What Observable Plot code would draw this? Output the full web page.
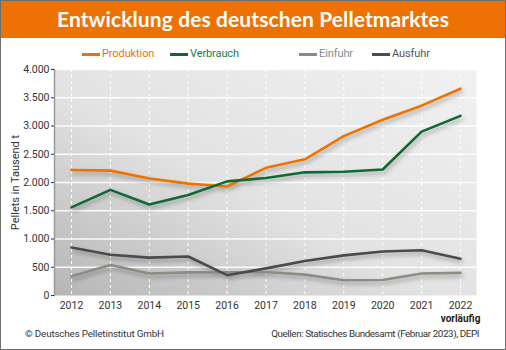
<!DOCTYPE html>
<html><head><meta charset="utf-8">
<script src="https://cdn.jsdelivr.net/npm/d3@7"></script>
<script src="https://cdn.jsdelivr.net/npm/@observablehq/plot@0.6"></script>
<style>
html,body{margin:0;padding:0;background:#fff;}
#wrap{position:relative;width:506px;height:350px;overflow:hidden;font-family:Roboto,sans-serif;}
#border{position:absolute;left:0;top:0;width:506px;height:350px;box-sizing:border-box;border:1px solid #6e6e6e;pointer-events:none;z-index:5;}
#title{position:absolute;left:0;top:0;width:506px;height:38px;background:#EE7203;color:#fff;font-family:Lato,sans-serif;font-weight:bold;font-size:21px;line-height:38px;text-align:center;letter-spacing:0.1px;}
.leg{position:absolute;top:46px;font-size:11px;line-height:16px;letter-spacing:-0.1px;}
.leg span.sw{position:absolute;top:7px;height:3px;width:18px;left:-20px;}
#chart{position:absolute;left:0;top:60px;}
.foot{position:absolute;top:327px;font-size:9.8px;color:#333;line-height:13px;letter-spacing:-0.15px;}
</style></head>
<body><div id="wrap">
<div id="title">Entwicklung des deutschen Pelletmarktes</div>
<div id="legend"></div>
<div id="chart"></div>
<div class="foot" style="left:25px;">© Deutsches Pelletinstitut GmbH</div>
<div class="foot" style="right:27px;text-align:right;letter-spacing:-0.4px;">Quellen: Statisches Bundesamt (Februar 2023), DEPI</div>
<div id="border"></div>
</div>
<script>
const years = [2012,2013,2014,2015,2016,2017,2018,2019,2020,2021,2022];
const produktion = [2220,2210,2070,1980,1930,2260,2410,2820,3110,3360,3660];
const verbrauch  = [1560,1870,1610,1780,2020,2080,2180,2190,2230,2900,3180];
const einfuhr    = [340,540,390,410,410,415,370,270,275,390,400];
const ausfuhr    = [850,720,670,690,360,480,610,710,780,800,650];
const seriesNames = ["Produktion","Verbrauch","Einfuhr","Ausfuhr"];
const seriesColors = ["#EE7203","#0B6B32","#8E8B82","#4B4B4D"];
const legendTextColors = ["#EE7203","#1E7A3E","#8a8a8a","#555"];
const yTicks = [0,500,1000,1500,2000,2500,3000,3500,4000];

const seriesValues = [produktion, verbrauch, einfuhr, ausfuhr];
const data = [];
seriesNames.forEach((s,i)=>years.forEach((y,j)=>data.push({series:s, year:y, value:seriesValues[i][j]})));

// legend
const legPos = [102,190,319,392];
const legend = document.getElementById("legend");
seriesNames.forEach((s,i)=>{
  const d = document.createElement("div");
  d.className="leg"; d.style.left=legPos[i]+"px"; d.style.color=legendTextColors[i];
  d.innerHTML = `<span class="sw" style="background:${seriesColors[i]}"></span>${s}`;
  legend.appendChild(d);
});

const de = d3.formatLocale({decimal:",",thousands:".",grouping:[3],currency:["","€"]});
const fmt = de.format(",");

const plot = Plot.plot({
  width:506, height:266,
  marginLeft:54, marginRight:30, marginTop:9, marginBottom:31,
  style:{fontFamily:'Roboto, sans-serif', fontSize:"10.5px", color:"#333", background:"transparent"},
  x:{domain:[2012,2022], insetLeft:17, insetRight:16},
  y:{domain:[0,4000]},
  color:{domain:seriesNames, range:seriesColors},
  marks:[
    Plot.frame({fill:"url(#bggrad)"}),
    Plot.ruleY(yTicks.filter(d=>d>0), {stroke:"white", strokeWidth:1.3, strokeOpacity:0.9}),
    Plot.ruleX(years, {stroke:"white", strokeDasharray:"3,3", strokeWidth:1}),
    Plot.frame({anchor:"left", stroke:"#9a9a9a", strokeWidth:1.5}),
    Plot.axisY({ticks:yTicks, tickFormat:fmt, tickSize:3, tickPadding:2, label:null, fontSize:10.5}),
    Plot.axisX({ticks:years, tickFormat:d=>String(d), tickSize:0, tickPadding:6, label:null, fontSize:10.5}),
    Plot.text(["vorläufig"], {x:[2022], y:[0], dy:23, fill:"#222", fontWeight:"bold", fontSize:10}),
    Plot.line(data, {x:"year", y:"value", z:"series", stroke:"series", strokeWidth:2.6}),
    Plot.text(["Pellets in Tausend t"], {frameAnchor:"left", textAnchor:"middle", dx:-39, rotate:-90, fontSize:11, fill:"#333"})
  ]
});
const svg = plot;
const ns="http://www.w3.org/2000/svg";
const defs = document.createElementNS(ns,"defs");
defs.innerHTML = `<linearGradient id="bggrad" x1="0" y1="1" x2="1" y2="0">
<stop offset="0" stop-color="#b5b5b5"/><stop offset="0.45" stop-color="#e2e2e2"/><stop offset="1" stop-color="#f1f1f1"/></linearGradient>
<filter id="shadow" x="-10%" y="-30%" width="120%" height="160%"><feDropShadow dx="1.5" dy="3" stdDeviation="2" flood-color="#000" flood-opacity="0.3"/></filter>`;
svg.insertBefore(defs, svg.firstChild);
svg.querySelectorAll('g[aria-label="line"]').forEach(g=>g.setAttribute("filter","url(#shadow)"));
document.getElementById("chart").appendChild(svg);
</script>
</body></html>
